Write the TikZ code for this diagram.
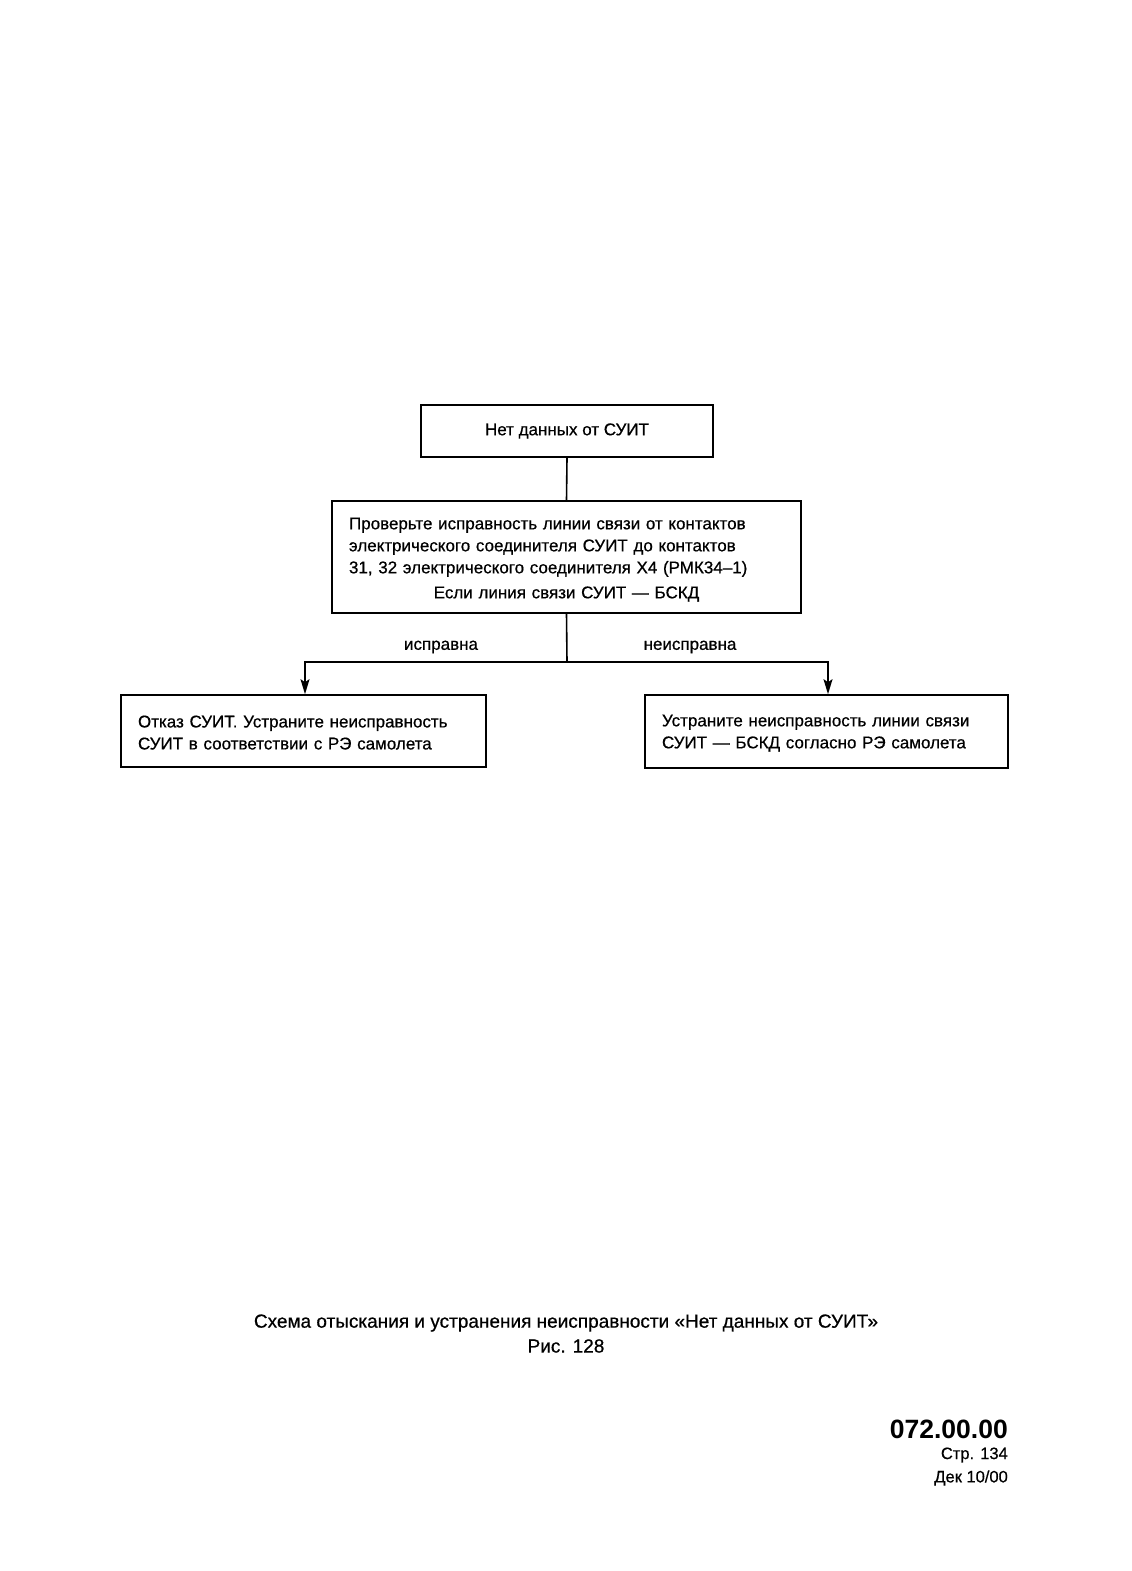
\documentclass[tikz,border=0pt]{standalone}
\usepackage{fontspec}
\setmainfont{Liberation Sans}
\newfontfamily\scanfont[FakeBold=0.6]{Liberation Sans}
\usetikzlibrary{arrows.meta}
\begin{document}
\begin{tikzpicture}[x=1pt,y=-1pt,
  box/.style={draw,line width=1.6pt,inner sep=0pt},
  txt/.style={font=\scanfont\fontsize{17}{22}\selectfont},
  conn/.style={line width=1.6pt},
  arr/.style={line width=1.6pt,-{Stealth[length=15pt,width=9pt,inset=3pt]}}]
\useasboundingbox (0,0) rectangle (1132,1571);
% top box
\node[box,txt,minimum width=292pt,minimum height=52pt] (top) at (567,431) {Нет данных от СУИТ};
% middle box
\node[box,txt,minimum width=469pt,minimum height=112pt,text width=435pt,align=left,inner xsep=17pt] (mid) at (566.5,557)
 {\rule{0pt}{17pt}Проверьте исправность линии связи от контактов\\
  электрического соединителя СУИТ до контактов\\
  31, 32 электрического соединителя X4 (РМК34–1)\\[3pt]
  \makebox[\linewidth][c]{Если линия связи СУИТ — БСКД}};
% bottom boxes
\node[box,txt,minimum width=365pt,minimum height=72pt,text width=331pt,align=left,inner xsep=17pt] (left) at (303.5,731)
 {\rule{0pt}{15pt}Отказ СУИТ. Устраните неисправность\\ СУИТ в соответствии с РЭ самолета};
\node[box,txt,minimum width=363pt,minimum height=73pt,text width=329pt,align=left,inner xsep=17pt] (right) at (826.5,731.5)
 {\rule{0pt}{15pt}Устраните неисправность линии связи\\ СУИТ — БСКД согласно РЭ самолета};
% connectors
\coordinate (split) at (567,662);
\coordinate (lc) at (305,662);
\coordinate (rc) at (828,662);
\draw[conn] (top.south) -- (mid.north);
\draw[conn] (mid.south) -- (split);
\draw[arr] (split) -- (lc) -- (lc |- left.north);
\draw[arr] (split) -- (rc) -- (rc |- right.north);
\node[txt] (lbl1) at (441,647) {исправна};
\node[txt] (lbl2) at (690,647) {неисправна};
% caption
\node[font=\scanfont\fontsize{19}{22}\selectfont] (cap1) at (566,1323) {Схема отыскания и устранения неисправности «Нет данных от СУИТ»};
\node[font=\scanfont\fontsize{19}{22}\selectfont] (cap2) at (566,1346) {Рис. 128};
% footer
\node[anchor=east,inner sep=0pt,font=\fontsize{26.5}{28}\selectfont\bfseries] (f1) at (1008,1429) {072.00.00};
\node[anchor=east,inner sep=0pt,font=\scanfont\fontsize{16.5}{20}\selectfont] (f2) at (1008,1455) {Стр. 134};
\node[anchor=east,inner sep=0pt,font=\scanfont\fontsize{16.5}{20}\selectfont] (f3) at (1008,1478) {Дек 10/00};
\end{tikzpicture}
\end{document}
